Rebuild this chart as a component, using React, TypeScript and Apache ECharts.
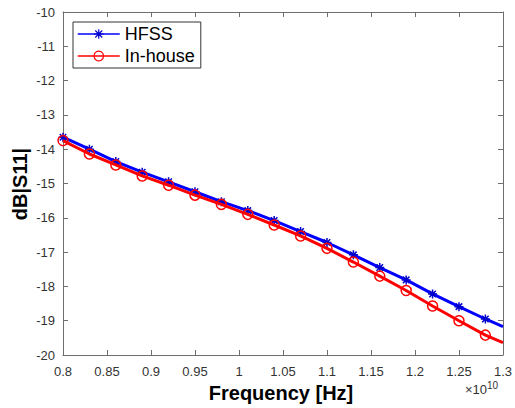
import React, { useEffect, useRef } from "react";
import * as echarts from "echarts";

// Frequency in units of 1e10 Hz
const freq = [0.8, 0.83, 0.86, 0.89, 0.92, 0.95, 0.98, 1.01, 1.04, 1.07, 1.1, 1.13, 1.16, 1.19, 1.22, 1.25, 1.28, 1.3];
const hfss = [-13.65, -14.0, -14.36, -14.67, -14.95, -15.24, -15.53, -15.79, -16.08, -16.4, -16.72, -17.08, -17.45, -17.81, -18.22, -18.59, -18.95, -19.17];
const inhouse = [-13.75, -14.14, -14.46, -14.78, -15.05, -15.34, -15.61, -15.9, -16.21, -16.53, -16.89, -17.29, -17.7, -18.12, -18.57, -19.0, -19.42, -19.64];
const seriesNames = ["HFSS", "In-house"];

const FONT = "'Liberation Sans', Arial, Helvetica, sans-serif";
const AXIS_COLOR = "#6e6e6e";
const LABEL_COLOR = "#333333";

const ASTERISK = "path://M0,-5L0,5M-5,0L5,0M-3.6,-3.6L3.6,3.6M3.6,-3.6L-3.6,3.6";

function buildData(ys: number[]) {
  return freq.map((x, i) =>
    i === freq.length - 1 ? { value: [x, ys[i]], symbol: "none" } : { value: [x, ys[i]] }
  );
}

export default function App() {
  const ref = useRef<HTMLDivElement>(null);
  useEffect(() => {
    if (!ref.current) return;
    const chart = echarts.init(ref.current, undefined, { renderer: "svg" });
    const axisCommon = {
      axisLine: { show: true, lineStyle: { color: AXIS_COLOR, width: 1 } },
      axisTick: { show: true, inside: true, length: 5, lineStyle: { color: AXIS_COLOR } },
      splitLine: { show: false },
    };
    chart.setOption({
      animation: false,
      backgroundColor: "#ffffff",
      grid: { left: 63, right: 12, top: 12, bottom: 53, containLabel: false },
      legend: {
        data: seriesNames,
        orient: "vertical",
        left: 73,
        top: 22,
        padding: [3, 6, 3, 4],
        itemGap: 4,
        itemWidth: 42,
        itemHeight: 12,
        itemTextGap: 4,
        backgroundColor: "#ffffff",
        borderColor: "#333333",
        borderWidth: 1,
        borderRadius: 0,
        lineStyle: { width: 1.5 },
        itemStyle: { borderWidth: 1.2 },
        textStyle: { fontFamily: FONT, fontSize: 18, color: "#000000" },
      },
      xAxis: [
        {
          type: "value",
          min: 0.8,
          max: 1.3,
          interval: 0.05,
          position: "bottom",
          ...axisCommon,
          axisLabel: { fontFamily: FONT, fontSize: 13, color: LABEL_COLOR, margin: 10 },
        },
        {
          type: "value",
          min: 0.8,
          max: 1.3,
          interval: 0.05,
          position: "top",
          ...axisCommon,
          axisLabel: { show: false },
        },
      ],
      yAxis: [
        {
          type: "value",
          min: -20,
          max: -10,
          interval: 1,
          position: "left",
          ...axisCommon,
          axisLabel: { fontFamily: FONT, fontSize: 13, color: LABEL_COLOR, margin: 8 },
        },
        {
          type: "value",
          min: -20,
          max: -10,
          interval: 1,
          position: "right",
          ...axisCommon,
          axisLabel: { show: false },
        },
      ],
      series: [
        {
          name: seriesNames[0],
          type: "line",
          data: buildData(hfss),
          symbol: ASTERISK,
          symbolSize: 9,
          showAllSymbol: true,
          lineStyle: { color: "#0000ff", width: 3 },
          itemStyle: { color: "#0000ff", borderColor: "#0000cc", borderWidth: 1.5 },
          z: 2,
        },
        {
          name: seriesNames[1],
          type: "line",
          data: buildData(inhouse),
          symbol: "circle",
          symbolSize: 10,
          showAllSymbol: true,
          lineStyle: { color: "#ff0000", width: 3 },
          itemStyle: { color: "rgba(255,0,0,0)", borderColor: "#ff0000", borderWidth: 1.5 },
          z: 3,
        },
      ],
      graphic: [
        {
          type: "text",
          x: 281,
          y: 393,
          style: {
            text: "Frequency [Hz]",
            font: `bold 20px ${FONT}`,
            fill: "#000000",
            align: "center",
            verticalAlign: "middle",
          },
        },
        {
          type: "text",
          x: 20,
          y: 184,
          rotation: Math.PI / 2,
          style: {
            text: "dB|S11|",
            font: `bold 20px ${FONT}`,
            fill: "#000000",
            align: "center",
            verticalAlign: "middle",
          },
        },
        {
          type: "text",
          x: 465,
          y: 389,
          style: {
            text: "×10{sup|10}",
            font: `13px ${FONT}`,
            fill: LABEL_COLOR,
            align: "left",
            verticalAlign: "middle",
            rich: {
              sup: { fontSize: 10, fontFamily: FONT, fill: LABEL_COLOR, verticalAlign: "top", padding: [0, 0, 8, 0] },
            },
          },
        },
      ],
    });
    return () => chart.dispose();
  }, []);
  return (
    <div
      ref={ref}
      style={{ position: "fixed", left: 0, top: 0, width: 515, height: 408 }}
    />
  );
}
